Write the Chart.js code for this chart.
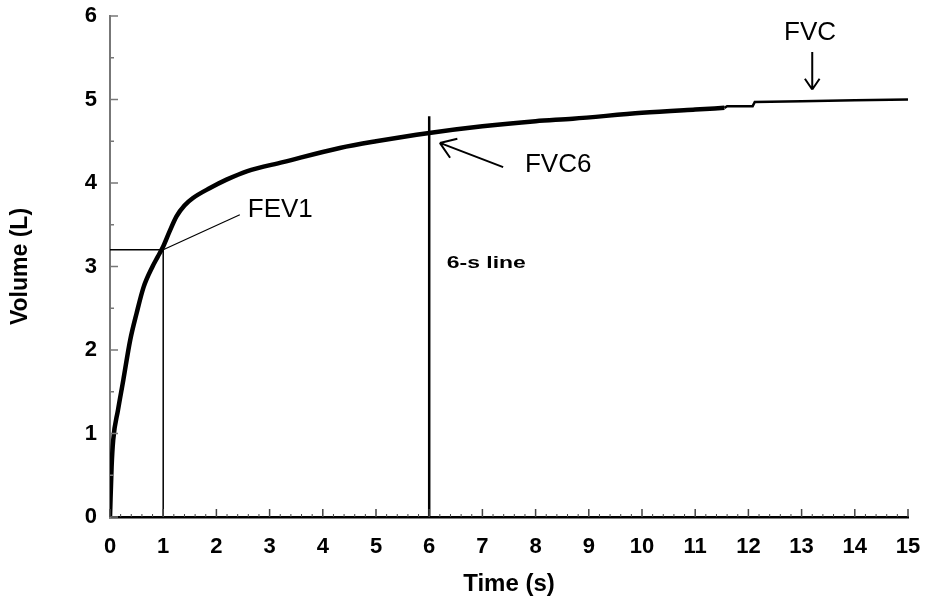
<!DOCTYPE html>
<html>
<head>
<meta charset="utf-8">
<script src="https://cdn.jsdelivr.net/npm/chart.js@4/dist/chart.umd.min.js"></script>
<style>
  html, body { margin: 0; padding: 0; background: #fff; }
  #wrap { width: 925px; height: 601px; }
</style>
</head>
<body>
<div id="wrap"><canvas id="spiro"></canvas></div>
<script>
// Volume-time spirogram, values
const timeMain   = [0, 0.03, 0.06, 0.15, 0.25, 0.38, 0.5, 0.63, 0.8, 0.9, 1.0, 1.12, 1.25, 1.4, 1.56, 1.88, 2.19, 2.57, 3.25, 4.32, 5, 6, 7, 8, 8.7, 10, 11, 11.55];
const volumeMain = [0, 0.6, 0.92, 1.28, 1.64, 2.12, 2.44, 2.75, 3.0, 3.12, 3.24, 3.42, 3.6, 3.73, 3.82, 3.94, 4.04, 4.14, 4.25, 4.42, 4.5, 4.6, 4.68, 4.74, 4.77, 4.84, 4.88, 4.9];
const timeTail   = [11.55, 11.6, 12.08, 12.12, 13, 14, 15];
const volumeTail = [4.9, 4.92, 4.92, 4.97, 4.98, 4.99, 5.0];

const fev1Time = 1;
const fev1Volume = 3.2;
const sixSecTop = 4.8;

const xTicks = [0, 1, 2, 3, 4, 5, 6, 7, 8, 9, 10, 11, 12, 13, 14, 15];
const yTicks = [0, 1, 2, 3, 4, 5, 6];

// annotation anchors, in data units
const fev1Leader = [[1, 3.2], [2.44, 3.62]];
const fvc6Arrow  = [[7.39, 4.19], [6.2, 4.48]];
const fvcArrow   = [[13.2, 5.57], [13.2, 5.12]];
const labels = [
  { text: 'FEV1', x: 2.59, y: 3.68, font: '26px "Liberation Sans"', align: 'left', sx: 1 },
  { text: 'FVC6', x: 7.8, y: 4.22, font: '26px "Liberation Sans"', align: 'left', sx: 1 },
  { text: 'FVC', x: 13.16, y: 5.8, font: '26px "Liberation Sans"', align: 'center', sx: 1 },
  { text: '6-s line', x: 6.33, y: 3.04, font: 'bold 17px "Liberation Sans"', align: 'left', sx: 1.35 }
];

const toXY = (xs, ys) => xs.map((x, i) => ({ x: x, y: ys[i] }));
const pairs = arr => arr.map(p => ({ x: p[0], y: p[1] }));

function line(data, width, extra) {
  return Object.assign({
    data: data,
    borderColor: '#000',
    borderWidth: width,
    pointRadius: 0,
    fill: false,
    tension: 0
  }, extra || {});
}

const decorations = {
  id: 'decorations',
  afterDatasetsDraw(chart) {
    const ctx = chart.ctx;
    const xs = chart.scales.x, ys = chart.scales.y;
    const px = v => xs.getPixelForValue(v);
    const py = v => ys.getPixelForValue(v);
    ctx.save();

    // inward ticks on the y axis
    ctx.strokeStyle = '#777';
    ctx.lineWidth = 1.5;
    for (let v = 0; v <= 6; v += 0.5) {
      const len = Number.isInteger(v) ? 8 : 4;
      ctx.beginPath();
      ctx.moveTo(px(0), py(v));
      ctx.lineTo(px(0) + len, py(v));
      ctx.stroke();
    }
    // inward ticks on the x axis
    ctx.strokeStyle = '#444';
    for (let i = 0; i <= 75; i++) {
      const v = i / 5;
      const major = i % 5 === 0;
      ctx.lineWidth = major ? 1.5 : 1;
      ctx.beginPath();
      ctx.moveTo(px(v), py(0));
      ctx.lineTo(px(v), py(0) - (major ? 8 : 3));
      ctx.stroke();
    }

    // arrows
    ctx.strokeStyle = '#000';
    ctx.lineWidth = 2;
    [[fvc6Arrow, 18], [fvcArrow, 13]].forEach(([a, head]) => {
      const x0 = px(a[0][0]), y0 = py(a[0][1]);
      const x1 = px(a[1][0]), y1 = py(a[1][1]);
      ctx.beginPath();
      ctx.moveTo(x0, y0);
      ctx.lineTo(x1, y1);
      const ang = Math.atan2(y1 - y0, x1 - x0);
      [-0.6, 0.6].forEach(d => {
        ctx.moveTo(x1, y1);
        ctx.lineTo(x1 - head * Math.cos(ang + d), y1 - head * Math.sin(ang + d));
      });
      ctx.stroke();
    });

    // text labels
    ctx.fillStyle = '#000';
    ctx.textBaseline = 'middle';
    labels.forEach(l => {
      ctx.save();
      ctx.font = l.font;
      ctx.textAlign = l.align;
      ctx.translate(px(l.x), py(l.y));
      ctx.scale(l.sx, 1);
      ctx.fillText(l.text, 0, 0);
      ctx.restore();
    });
    ctx.restore();
  }
};

new Chart(document.getElementById('spiro'), {
  type: 'line',
  data: {
    datasets: [
      line(toXY(timeMain, volumeMain), 4.5, { cubicInterpolationMode: 'monotone' }),
      line(toXY(timeTail, volumeTail), 2.5),
      line([{ x: 0, y: fev1Volume }, { x: fev1Time, y: fev1Volume }, { x: fev1Time, y: 0 }], 1.5),
      line([{ x: 6, y: 0 }, { x: 6, y: sixSecTop }], 2.5),
      line(pairs(fev1Leader), 1.2)
    ]
  },
  options: {
    responsive: true,
    maintainAspectRatio: false,
    animation: false,
    events: [],
    layout: { padding: { left: 0, right: 17, top: 16, bottom: 0 } },
    plugins: {
      legend: { display: false },
      tooltip: { enabled: false }
    },
    scales: {
      x: {
        type: 'linear',
        min: 0,
        max: 15,
        afterFit: s => { s.height = 84; s.paddingLeft = 0; s.paddingRight = 0; },
        afterBuildTicks: s => { s.ticks = xTicks.map(v => ({ value: v })); },
        grid: { display: false, drawTicks: false },
        border: { display: true, color: '#000', width: 2.5 },
        ticks: {
          padding: 17,
          color: '#000',
          maxRotation: 0,
          font: { family: '"Liberation Sans"', size: 22, weight: 'bold' }
        },
        title: {
          display: true,
          text: 'Time (s)',
          color: '#000',
          padding: { top: 0, bottom: 2 },
          font: { family: '"Liberation Sans"', size: 24, weight: 'bold' }
        }
      },
      y: {
        type: 'linear',
        min: 0,
        max: 6,
        afterFit: s => { s.width = 110; s.paddingTop = 0; s.paddingBottom = 0; },
        afterBuildTicks: s => { s.ticks = yTicks.map(v => ({ value: v })); },
        grid: { display: false, drawTicks: false },
        border: { display: true, color: '#777', width: 2 },
        ticks: {
          padding: 13,
          color: '#000',
          font: { family: '"Liberation Sans"', size: 22, weight: 'bold' }
        },
        title: {
          display: true,
          text: 'Volume (L)',
          color: '#000',
          padding: { top: 7, bottom: 0 },
          font: { family: '"Liberation Sans"', size: 23, weight: 'bold' }
        }
      }
    }
  },
  plugins: [decorations]
});
</script>
</body>
</html>
